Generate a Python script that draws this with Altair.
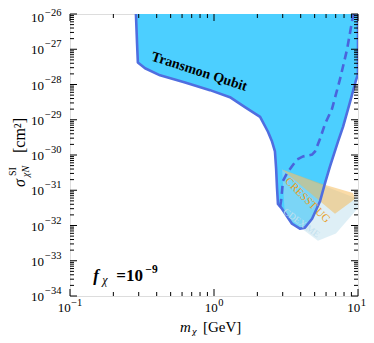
import altair as alt
import pandas as pd

# ---------------- data ----------------
# Transmon Qubit excluded region outline: mass [GeV], log10(sigma [cm^2])
tq_m = [0.287, 0.292, 0.296, 0.332, 0.422, 0.63, 0.938, 1.29, 1.64, 2.09, 2.37,
        2.53, 2.65, 2.70, 2.74, 2.78, 2.97, 3.48, 3.95, 4.28, 4.80, 5.45, 5.90,
        6.39, 7.26, 7.87, 8.80, 9.68, 10.0, 10.0]
tq_e = [-26.0, -26.81, -27.375, -27.54, -27.74, -27.94, -28.16, -28.36, -28.64,
        -28.92, -29.34, -29.62, -29.90, -30.38, -30.94, -31.39, -31.53, -31.95,
        -32.09, -32.06, -31.81, -31.31, -30.80, -30.32, -29.62, -29.20, -28.50,
        -27.88, -27.71, -26.0]

# dashed projection curve
dash_m = [9.53, 9.23, 8.39, 7.50, 6.60, 5.90, 5.45, 5.03, 4.80, 4.15, 3.77,
          3.48, 3.21, 3.01, 2.97, 2.92, 2.87]
dash_e = [-26.0, -26.06, -27.01, -27.85, -28.69, -29.12, -29.54, -29.90,
          -29.99, -30.04, -30.13, -30.32, -30.52, -30.74, -31.02, -31.31, -31.50]

# CRESST UG region
cr_m = [2.97, 5.71, 9.23, 9.53, 6.92]
cr_e = [-30.41, -30.83, -31.08, -31.25, -31.67]

# CDEX ME region
cd_m = [2.97, 10.0, 10.0, 7.03, 5.27, 3.11]
cd_e = [-30.41, -31.25, -31.50, -32.23, -32.43, -31.73]

x_major = [0.1, 1.0, 10.0]
x_exp = ["−1", "0", "1"]
x_minor = [k * 10.0 ** d for d in (-1, 0) for k in range(2, 10)]
y_exps = list(range(-34, -25))
y_major = [10.0 ** e for e in y_exps]
y_minor = [k * 10.0 ** e for e in range(-34, -26) for k in range(2, 10)]

W, H = 288, 282
TOP = 6
SERIF = "Liberation Serif"

xscale = alt.Scale(type="log", domain=[0.1, 10], nice=False)
yscale = alt.Scale(type="log", domain=[1e-34, 1e-26], nice=False)
ONE = pd.DataFrame({"a": [0]})


def poly(ms, es):
    return pd.DataFrame({"m": ms, "s": [10.0 ** e for e in es],
                         "i": list(range(len(ms)))})


def X(f="m"):
    return alt.X(f"{f}:Q", scale=xscale, axis=None)


def Y(f="s"):
    return alt.Y(f"{f}:Q", scale=yscale, axis=None)


base_fill = alt.Chart(poly(tq_m, tq_e)).mark_line(
    fill="#4ccfff", fillOpacity=1, strokeOpacity=0, clip=True
).encode(x=X(), y=Y(), order="i:Q")

cresst = alt.Chart(poly(cr_m, cr_e)).mark_line(
    fill="#f5b850", fillOpacity=0.5, strokeOpacity=0, clip=True
).encode(x=X(), y=Y(), order="i:Q")

cdex = alt.Chart(poly(cd_m, cd_e)).mark_line(
    fill="#b5dcec", fillOpacity=0.45, strokeOpacity=0, clip=True
).encode(x=X(), y=Y(), order="i:Q")

outline = alt.Chart(poly(tq_m, tq_e)).mark_line(
    color="#4f6ee0", strokeWidth=2.6, clip=True, strokeJoin="round"
).encode(x=X(), y=Y(), order="i:Q")

dashed = alt.Chart(poly(dash_m, dash_e)).mark_line(
    color="#4a64dc", strokeWidth=2.6, strokeDash=[8, 5], clip=True
).encode(x=X(), y=Y(), order="i:Q")


def dtext(txt, xv, yv, **kw):
    df = pd.DataFrame({"m": [xv], "s": [yv]})
    return alt.Chart(df).mark_text(text=txt, **kw).encode(x=X(), y=Y())


def ptext(txt, xp, yp, **kw):
    return alt.Chart(ONE).mark_text(text=txt, **kw).encode(
        x=alt.value(xp), y=alt.value(yp))


F_E = -33.58
texts = [
    dtext("Transmon Qubit", 0.79, 10 ** -27.64, font=SERIF, fontSize=14,
          fontWeight="bold", angle=18, color="black"),
    dtext("CRESST UG", 4.45, 10 ** -31.29, font=SERIF, fontSize=11,
          angle=45, color="#e99d22"),
    dtext("CDEX ME", 4.05, 10 ** -31.93, font=SERIF, fontSize=9.5,
          angle=36, color="#c2e0ee"),
    # f_chi = 10^-9
    dtext("f", 0.15, 10 ** F_E, font=SERIF, fontSize=17, fontWeight="bold",
          fontStyle="italic", align="left", baseline="alphabetic", dx=-2),
    dtext("χ", 0.15, 10 ** F_E, font=SERIF, fontSize=12, fontStyle="italic",
          align="left", baseline="alphabetic", dx=7, dy=3),
    dtext("=10", 0.15, 10 ** F_E, font=SERIF, fontSize=17, fontWeight="bold",
          align="left", baseline="alphabetic", dx=21),
    dtext("−9", 0.15, 10 ** F_E, font=SERIF, fontSize=11.5, fontWeight="bold",
          align="left", baseline="alphabetic", dx=50, dy=-8),
]

# ---- tick labels (10 + superscript exponent) ----
label_layers = []
ydf = pd.DataFrame({"s": y_major, "lab": [f"−{-e}" for e in y_exps],
                    "top": [e == -26 for e in y_exps]})
for is_top, d10, dex in ((False, 1, -5), (True, 4, -1)):
    sub = ydf[ydf["top"] == is_top]
    label_layers.append(alt.Chart(sub).mark_text(
        text="10", font=SERIF, fontSize=13, align="right", baseline="middle",
        dy=d10).encode(y=Y(), x=alt.value(-26)))
    label_layers.append(alt.Chart(sub).mark_text(
        font=SERIF, fontSize=10.5, align="left", baseline="middle", dy=dex
    ).encode(y=Y(), x=alt.value(-25), text="lab:N"))

for v, ex in zip(x_major, x_exp):
    w_exp = 5.3 * len(ex) + (1.0 if ex.startswith("−") else 0)
    w = 13 + w_exp
    d10 = 13 - w / 2 - (1.5 if v == 10.0 else 0)
    xdf = pd.DataFrame({"m": [v]})
    label_layers.append(alt.Chart(xdf).mark_text(
        text="10", font=SERIF, fontSize=13, align="right", baseline="middle",
        dx=d10).encode(x=X(), y=alt.value(H + 12)))
    label_layers.append(alt.Chart(xdf).mark_text(
        text=ex, font=SERIF, fontSize=10.5, align="left", baseline="middle",
        dx=d10 + 0.5).encode(x=X(), y=alt.value(H + 7)))

# ---- axis titles ----
title_layers = [
    # x title: m_chi [GeV]
    ptext("m", 110, H + 36, font=SERIF, fontSize=15, fontStyle="italic",
          align="left", baseline="alphabetic"),
    ptext("χ", 122, H + 39, font=SERIF, fontSize=10.5, fontStyle="italic",
          align="left", baseline="alphabetic"),
    ptext("[GeV]", 133, H + 36, font=SERIF, fontSize=15,
          align="left", baseline="alphabetic"),
    # y title: sigma^SI_chiN [cm^2] (rotated)
    ptext("σ", -45, 173, font=SERIF, fontSize=16, fontStyle="italic",
          angle=270, align="left", baseline="alphabetic"),
    ptext("SI", -54, 162, font=SERIF, fontSize=10, angle=270, align="left",
          baseline="alphabetic"),
    ptext("χN", -41, 163, font=SERIF, fontSize=10, fontStyle="italic",
          angle=270, align="left", baseline="alphabetic"),
    ptext("[cm²]", -45, 139, font=SERIF, fontSize=16, angle=270, align="left",
          baseline="alphabetic"),
]


def ticks_x(vals, length, top):
    df = pd.DataFrame({"m": vals})
    if top:
        enc = dict(y=alt.value(0), y2=alt.value(length))
    else:
        enc = dict(y=alt.value(H), y2=alt.value(H - length))
    return alt.Chart(df).mark_rule(color="black", strokeWidth=1).encode(x=X(), **enc)


def ticks_y(vals, length, right):
    df = pd.DataFrame({"s": vals})
    if right:
        enc = dict(x=alt.value(W), x2=alt.value(W - length))
    else:
        enc = dict(x=alt.value(0), x2=alt.value(length))
    return alt.Chart(df).mark_rule(color="black", strokeWidth=1).encode(y=Y(), **enc)


tick_layers = [
    ticks_x(x_major, 7, False), ticks_x(x_minor, 4, False),
    ticks_x(x_major, 7, True), ticks_x(x_minor, 4, True),
    ticks_y(y_major, 7, False), ticks_y(y_minor, 4, False),
    ticks_y(y_major, 7, True), ticks_y(y_minor, 4, True),
]

chart = alt.layer(
    base_fill, cdex, cresst, outline, dashed, *texts, *tick_layers,
    *label_layers, *title_layers
).properties(
    width=W, height=H,
    autosize=alt.AutoSizeParams(type="none"),
    padding={"left": 62, "top": TOP, "right": 8, "bottom": 40},
).configure_view(stroke="black", strokeWidth=1.8).configure(background="white")

chart.save("out.html", embed_options={"renderer": "svg", "actions": False})
